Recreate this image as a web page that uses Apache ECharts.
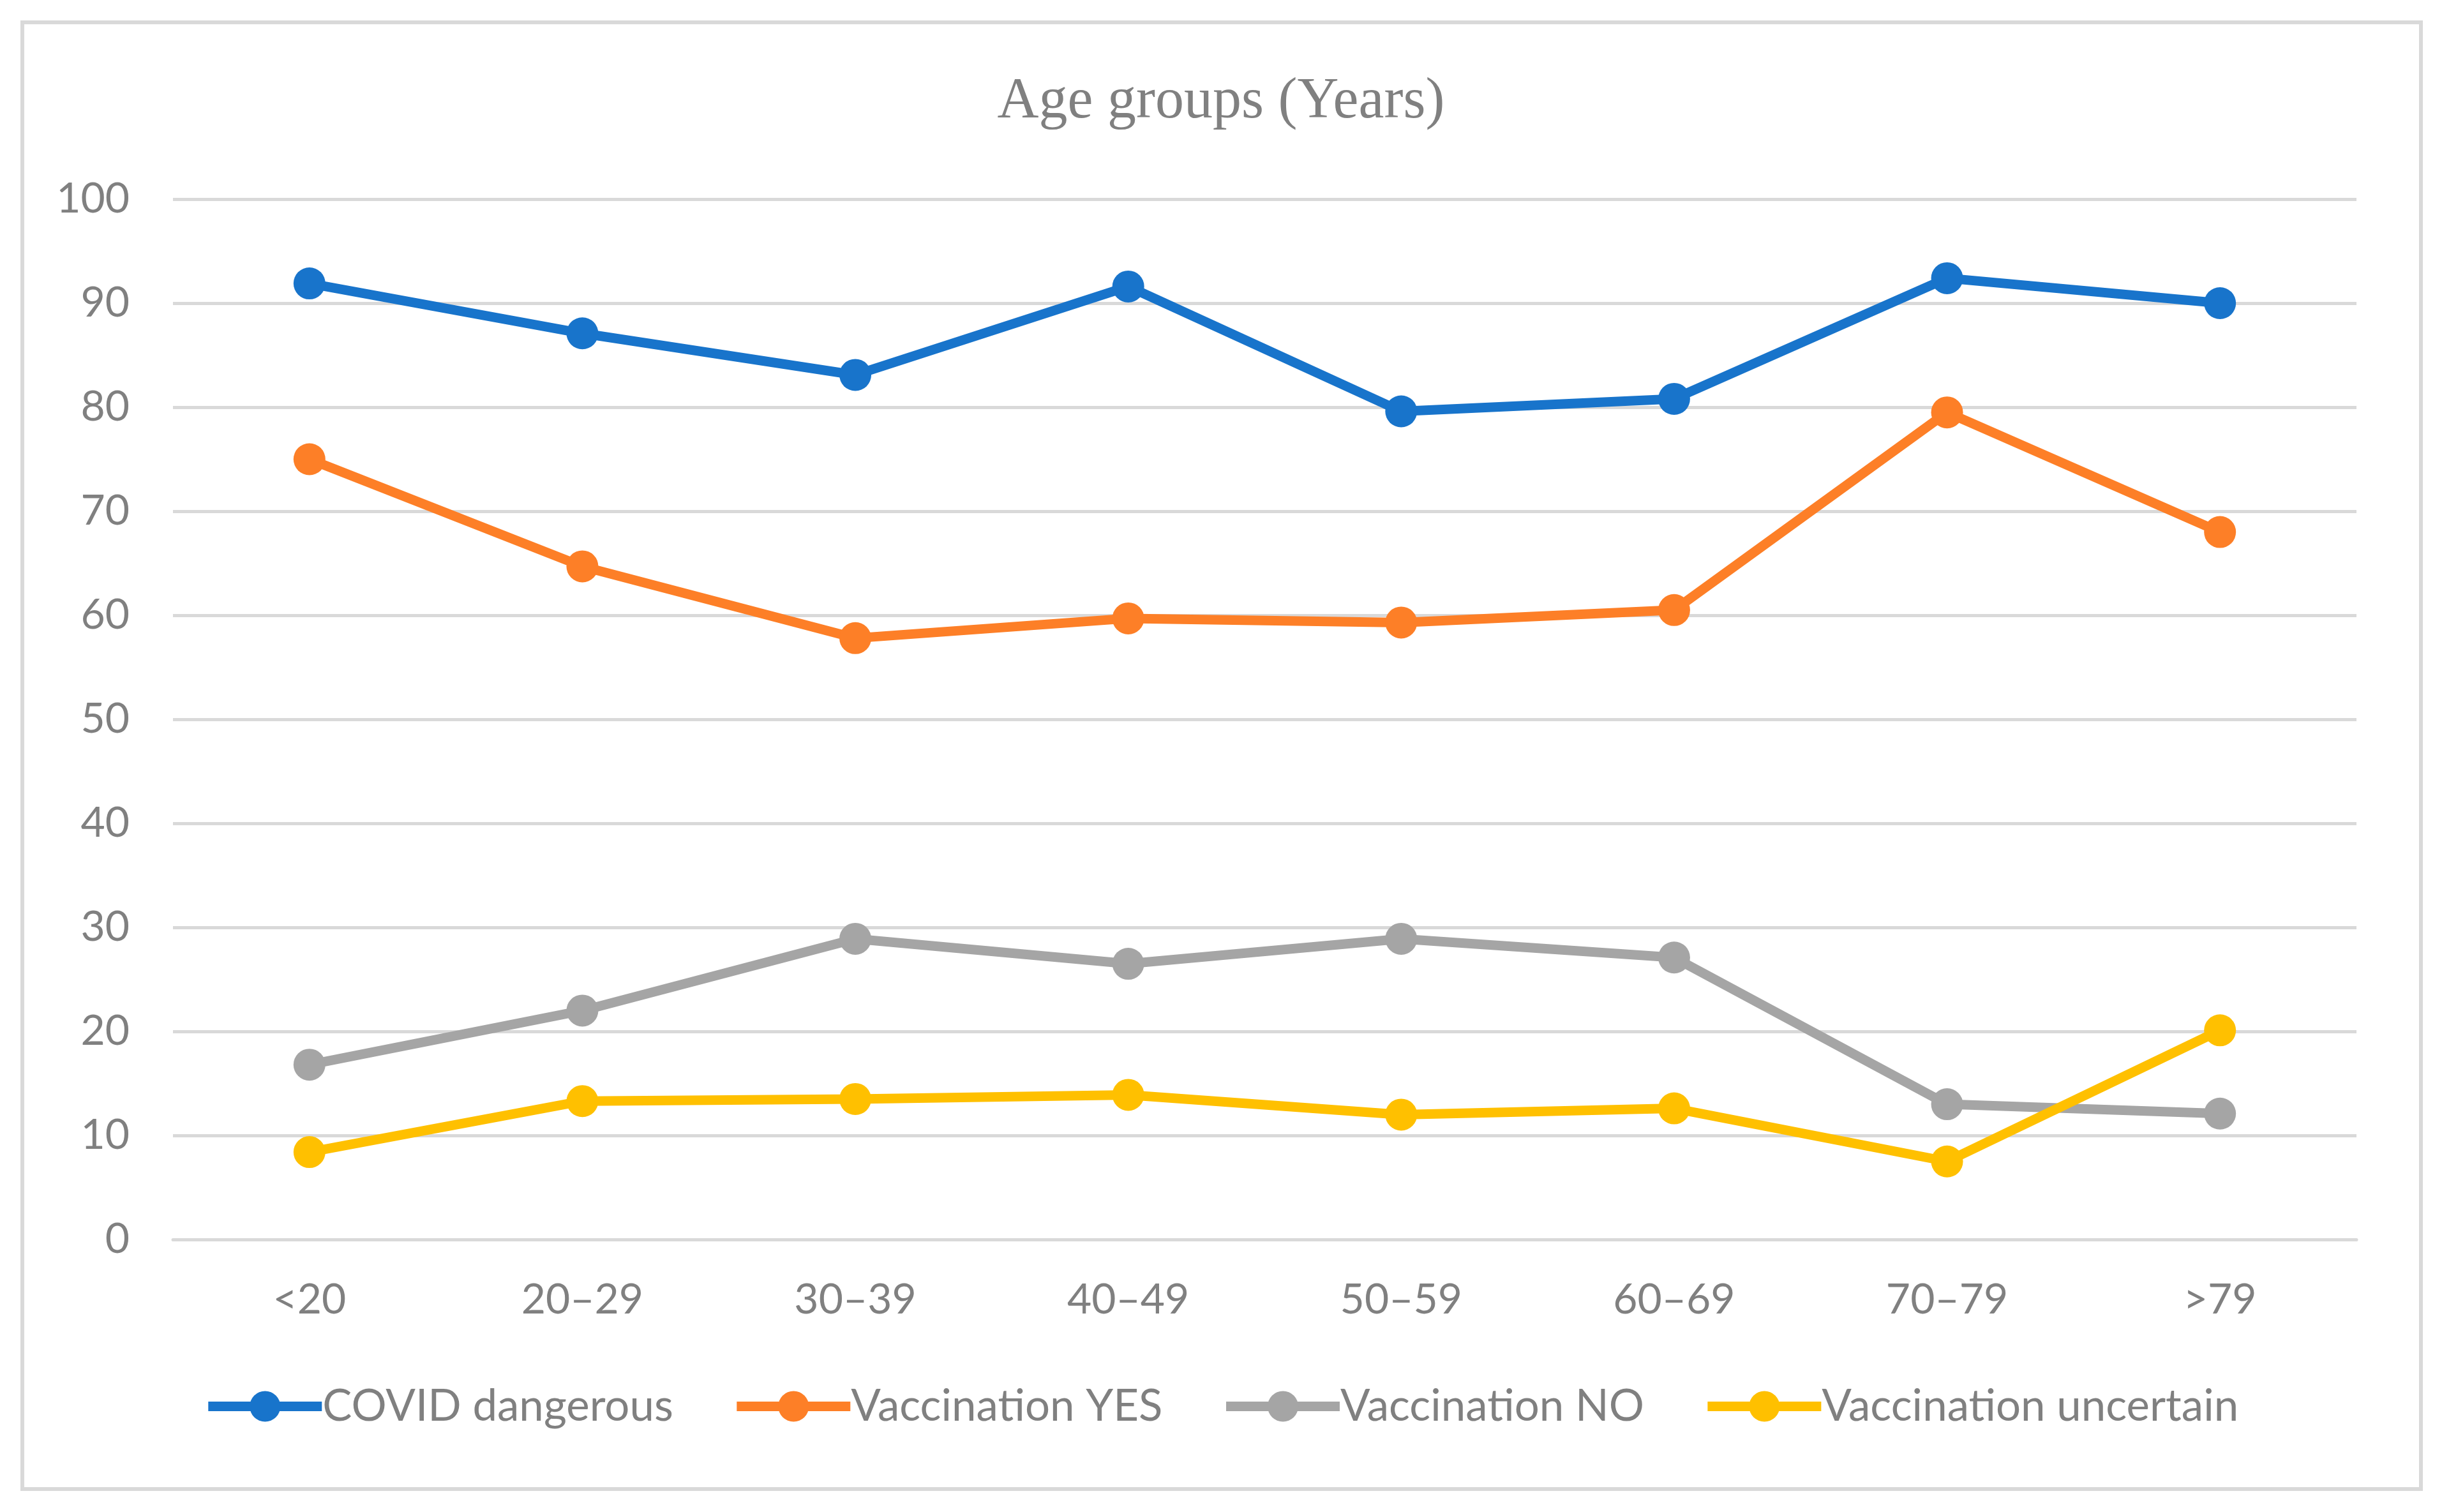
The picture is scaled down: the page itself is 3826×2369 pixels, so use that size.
<!DOCTYPE html>
<html>
<head>
<meta charset="utf-8">
<script src="https://cdn.jsdelivr.net/npm/echarts@6/dist/echarts.min.js"></script>
<style>
html,body{margin:0;padding:0;background:#fff;}
#chart{width:3826px;height:2369px;}
</style>
</head>
<body>
<div id="chart"></div>
<script>
const titleText = 'Age groups (Years)';
const categories = ['<20', '20–29', '30–39', '40–49', '50–59', '60–69', '70–79', '>79'];
const yTicks = [0, 10, 20, 30, 40, 50, 60, 70, 80, 90, 100];
const seriesNames = ['COVID dangerous', 'Vaccination YES', 'Vaccination NO', 'Vaccination uncertain'];
const covidDangerous = [91.9, 87.1, 83.1, 91.6, 79.6, 80.8, 92.4, 90.0];
const vaccinationYes = [75.0, 64.7, 57.8, 59.7, 59.3, 60.5, 79.5, 68.0];
const vaccinationNo = [16.8, 22.0, 28.9, 26.5, 28.9, 27.1, 13.0, 12.1];
const vaccinationUncertain = [8.4, 13.3, 13.5, 13.9, 12.0, 12.6, 7.5, 20.1];
const colors = ['#1874CB', '#FD7F27', '#A5A5A5', '#FFC000'];

const seriesData = [covidDangerous, vaccinationYes, vaccinationNo, vaccinationUncertain];
const textColor = '#808080';
const labelFont = 'Lato, "Open Sans", "Noto Sans", sans-serif';

const chart = echarts.init(document.getElementById('chart'), null, {renderer: 'canvas'});
chart.setOption({
  backgroundColor: '#ffffff',
  animation: false,
  color: colors,
  title: {
    text: titleText,
    left: 'center',
    top: 115,
    padding: 0,
    textStyle: {
      fontFamily: '"Liberation Serif", "DejaVu Serif", serif',
      fontWeight: 'normal',
      fontSize: 90,
      color: textColor
    }
  },
  graphic: [{
    type: 'rect',
    left: 32,
    top: 32,
    shape: {width: 3758, height: 2298},
    style: {fill: 'none', stroke: '#D9D9D9', lineWidth: 6},
    silent: true,
    z: -1
  }],
  legend: {
    data: seriesNames,
    left: 'center',
    top: 2164,
    itemWidth: 178,
    itemHeight: 60,
    itemGap: 92,
    lineStyle: {width: 15},
    textStyle: {
      fontFamily: labelFont,
      fontSize: 69,
      color: textColor,
      padding: [0, 0, 0, -4]
    }
  },
  grid: {
    left: 271,
    right: 134,
    top: 312,
    bottom: 427,
    containLabel: false
  },
  xAxis: {
    type: 'category',
    data: categories,
    boundaryGap: true,
    axisLine: {show: true, lineStyle: {color: '#D9D9D9', width: 5}},
    axisTick: {show: false},
    axisLabel: {
      margin: 62,
      fontFamily: labelFont,
      fontSize: 66,
      color: textColor
    },
    splitLine: {show: false}
  },
  yAxis: {
    type: 'value',
    min: yTicks[0],
    max: yTicks[yTicks.length - 1],
    interval: yTicks[1] - yTicks[0],
    axisLine: {show: false},
    axisTick: {show: false},
    axisLabel: {
      margin: 68,
      fontFamily: labelFont,
      fontSize: 66,
      color: textColor
    },
    splitLine: {show: true, lineStyle: {color: '#D9D9D9', width: 5}}
  },
  series: seriesNames.map((name, i) => ({
    name: name,
    type: 'line',
    data: seriesData[i],
    symbol: 'circle',
    symbolSize: 50,
    lineStyle: {width: 15, color: colors[i]},
    itemStyle: {color: colors[i]},
    emphasis: {disabled: true}
  }))
});
</script>
</body>
</html>
